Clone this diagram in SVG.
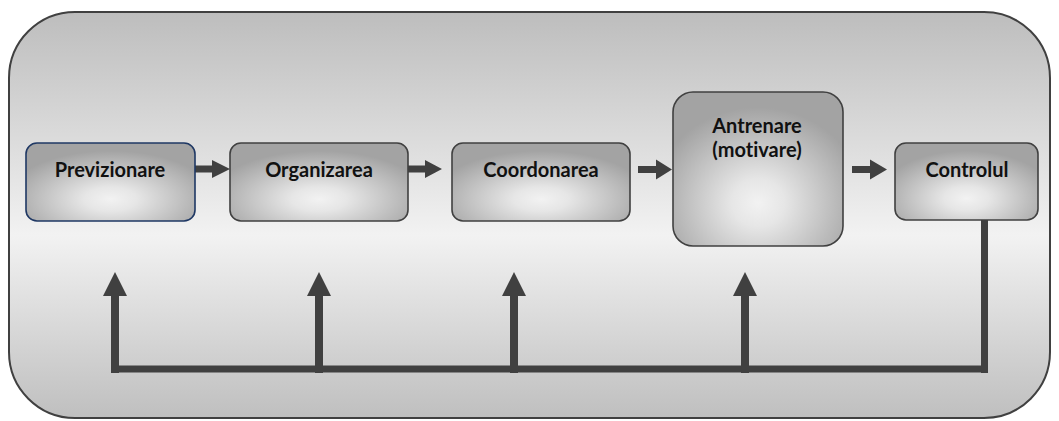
<svg xmlns="http://www.w3.org/2000/svg" width="1059" height="421" viewBox="0 0 1059 421">
  <defs>
    <linearGradient id="bg" x1="0" y1="0" x2="0" y2="1">
      <stop offset="0" stop-color="#bdbdbd"/>
      <stop offset="0.55" stop-color="#f2f2f2"/>
      <stop offset="1" stop-color="#bfbfbf"/>
    </linearGradient>
    <radialGradient id="box" cx="0.5" cy="0.72" r="0.62">
      <stop offset="0" stop-color="#f2f2f2"/>
      <stop offset="0.25" stop-color="#e6e6e6"/>
      <stop offset="1" stop-color="#a3a3a3"/>
    </radialGradient>
    <style>
      .box { fill: url(#box); stroke: #404040; stroke-width: 1.6; }
      .label { font-family: Lato, "Liberation Sans", sans-serif; font-weight: bold; font-size: 20px; fill: #111111; text-anchor: middle; font-variant-ligatures: none; font-feature-settings: "liga" 0; }
      .conn { fill: #404040; }
    </style>
  </defs>

  <rect id="frame" x="9" y="12" width="1041" height="406" rx="66" ry="66" fill="url(#bg)" stroke="#404040" stroke-width="2"/>

  <g id="connectors">
    <polygon class="conn" points="195,165.5 212,165.5 212,160 230,169 212,178 212,172.5 195,172.5"/>
    <polygon class="conn" points="408,165.5 425,165.5 425,160 442,169 425,178 425,172.5 408,172.5"/>
    <polygon class="conn" points="638,166 656,166 656,159.5 672,169.5 656,179.5 656,173 638,173"/>
    <polygon class="conn" points="852,166 870,166 870,159.5 887,169.5 870,179.5 870,173 852,173"/>
    <rect class="conn" x="981" y="220" width="7" height="153"/>
    <rect class="conn" x="111" y="365.5" width="877" height="7"/>
    <polygon class="conn" points="111,373 111,296 103,296 115,272 127,296 119,296 119,373"/>
    <polygon class="conn" points="315,373 315,296 307,296 319,272 331,296 323,296 323,373"/>
    <polygon class="conn" points="510,373 510,296 502,296 514,272 526,296 518,296 518,373"/>
    <polygon class="conn" points="741,373 741,296 733,296 745,272 757,296 749,296 749,373"/>
  </g>

  <g id="previzionare">
    <rect class="box" x="26" y="143" width="169" height="78" rx="11" style="stroke:#1f3864"/>
    <text class="label" x="110" y="177">Previzionare</text>
  </g>
  <g id="organizarea">
    <rect class="box" x="230" y="143" width="178" height="78" rx="11"/>
    <text class="label" x="319" y="177">Organizarea</text>
  </g>
  <g id="coordonarea">
    <rect class="box" x="452" y="143" width="178" height="78" rx="11"/>
    <text class="label" x="541" y="177">Coordonarea</text>
  </g>
  <g id="antrenare">
    <rect class="box" x="673" y="92" width="170" height="154" rx="20"/>
    <text class="label" x="757" y="133">Antrenare</text>
    <text class="label" x="757" y="157">(motivare)</text>
  </g>
  <g id="controlul">
    <rect class="box" x="895" y="143" width="143" height="77" rx="11"/>
    <text class="label" x="967" y="177">Controlul</text>
  </g>
</svg>
